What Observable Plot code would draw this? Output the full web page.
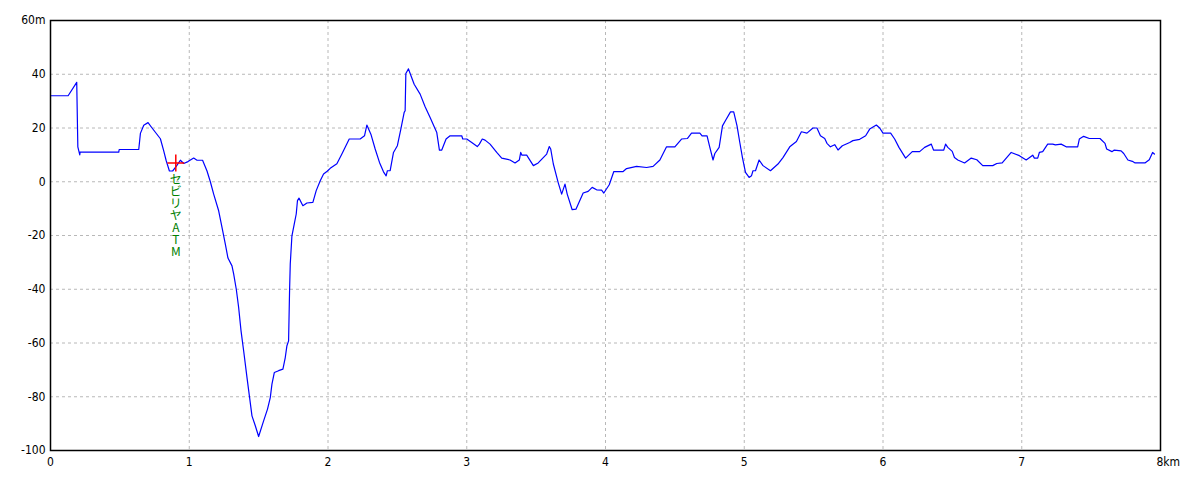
<!DOCTYPE html>
<html>
<head>
<meta charset="utf-8">
<script src="https://cdn.jsdelivr.net/npm/d3@7"></script>
<script src="https://cdn.jsdelivr.net/npm/@observablehq/plot@0.6"></script>
<style>
  html, body { margin: 0; padding: 0; background: #fff; }
  #chart svg { display: block; }
</style>
</head>
<body>
<div id="chart"></div>
<script>
// distance along route (km)
const distKm = [
  0, 0.127, 0.189, 0.197, 0.204, 0.211, 0.213, 0.492, 0.495, 0.636,
  0.648, 0.672, 0.703, 0.732, 0.792, 0.816, 0.833, 0.857, 0.880, 0.905,
  0.936, 0.960, 0.991, 1.032, 1.056, 1.096, 1.128, 1.152, 1.176, 1.212,
  1.236, 1.260, 1.279, 1.308, 1.320, 1.339, 1.356, 1.373, 1.392, 1.416,
  1.435, 1.452, 1.476, 1.500, 1.536, 1.564, 1.584, 1.596, 1.613, 1.644,
  1.675, 1.692, 1.704, 1.716, 1.723, 1.728, 1.740, 1.757, 1.771, 1.780,
  1.791, 1.819, 1.848, 1.891, 1.915, 1.944, 1.968, 1.994, 2.016, 2.064,
  2.100, 2.153, 2.232, 2.263, 2.280, 2.309, 2.340, 2.371, 2.400, 2.419,
  2.428, 2.448, 2.472, 2.500, 2.525, 2.549, 2.556, 2.561, 2.580, 2.592,
  2.621, 2.664, 2.700, 2.736, 2.784, 2.803, 2.820, 2.851, 2.880, 2.964,
  2.971, 3.000, 3.036, 3.076, 3.091, 3.112, 3.132, 3.168, 3.216, 3.252,
  3.312, 3.348, 3.379, 3.389, 3.398, 3.432, 3.480, 3.515, 3.576, 3.595,
  3.605, 3.624, 3.659, 3.684, 3.708, 3.724, 3.760, 3.787, 3.839, 3.875,
  3.904, 3.936, 3.972, 3.988, 4.027, 4.060, 4.127, 4.152, 4.224, 4.296,
  4.343, 4.392, 4.440, 4.500, 4.548, 4.591, 4.620, 4.680, 4.696, 4.732,
  4.752, 4.775, 4.788, 4.819, 4.843, 4.867, 4.901, 4.924, 4.948, 4.968,
  4.987, 5.009, 5.035, 5.052, 5.063, 5.081, 5.107, 5.135, 5.189, 5.243,
  5.279, 5.328, 5.376, 5.412, 5.452, 5.495, 5.524, 5.549, 5.580, 5.596,
  5.621, 5.652, 5.676, 5.707, 5.760, 5.783, 5.832, 5.875, 5.904, 5.952,
  5.976, 6.000, 6.055, 6.084, 6.115, 6.163, 6.211, 6.264, 6.300, 6.348,
  6.364, 6.438, 6.451, 6.467, 6.499, 6.515, 6.539, 6.588, 6.636, 6.676,
  6.719, 6.791, 6.820, 6.859, 6.924, 6.983, 7.032, 7.079, 7.091, 7.115,
  7.127, 7.151, 7.187, 7.223, 7.243, 7.284, 7.320, 7.403, 7.415, 7.446,
  7.487, 7.564, 7.600, 7.612, 7.650, 7.667, 7.716, 7.735, 7.765, 7.797,
  7.817, 7.888, 7.919, 7.943, 7.956
];
// elevation relative (m)
const elevM = [
  32, 32, 37, 13, 11.5, 10, 11, 11, 12, 12,
  18, 21, 22, 20, 16, 11.5, 8, 4, 4, 5.6,
  8, 6.8, 7.5, 8.8, 8, 8, 4, 0, -4.6, -10.8,
  -17, -23.2, -28.4, -31.3, -34.3, -40, -46.8, -55.4, -62.9, -72.8,
  -80.3, -87.1, -90.8, -94.8, -89, -84.6, -80.3, -75.3, -71, -70.3,
  -69.7, -65.4, -61, -59.2, -40.6, -30.6, -20.1, -15.7, -12, -7,
  -6.1, -8.9, -7.9, -7.7, -3.3, 0.4, 2.9, 3.9, 5.0, 6.7,
  10.3, 15.9, 15.9, 17.1, 21.1, 17.7, 12.2, 7.2, 3.7, 2.2,
  4.1, 4.1, 10.9, 13.4, 19.6, 25.8, 26.4, 40.3, 42, 40.3,
  36.3, 32.6, 27.9, 23.9, 18.3, 11.8, 11.8, 15.9, 17.1, 17.1,
  15.9, 15.9, 14.6, 13.1, 14, 15.9, 15.5, 14, 10.9, 8.8,
  8.1, 7, 8.1, 10.9, 9.9, 9.9, 6, 7, 10.3, 13.1,
  12.2, 6.6, -0.3, -4.6, -0.9, -4.6, -10.4, -10.2, -4.2, -3.6,
  -2.1, -3, -3.1, -4.2, -1.1, 3.8, 3.8, 4.9, 5.7, 5.3,
  5.7, 8.1, 13, 13, 15.9, 16.1, 18.1, 18.1, 17.1, 17.1,
  12.8, 8.1, 10.5, 12.8, 20.8, 23, 26, 26, 20.8, 14.6,
  9, 3.5, 1.6, 2.2, 4.1, 4.1, 8.1, 6, 4.1, 6.6,
  9, 13, 15, 18.6, 18.1, 20, 20, 17.1, 16.1, 14.3,
  13, 13.8, 11.8, 13.4, 14.6, 15.3, 15.8, 17.1, 19.6, 21.1,
  20, 18.1, 18.1, 15.9, 12.8, 8.8, 11.2, 11.2, 12.8, 14,
  11.8, 11.8, 14, 12.8, 11.3, 9, 8.1, 7, 8.8, 8.2,
  6, 6, 6.8, 7, 10.9, 9.7, 8.1, 9.9, 8.8, 8.8,
  10.9, 11.2, 14, 14, 13.7, 14, 13, 13, 15.9, 16.9,
  16.1, 16.1, 14.3, 12.2, 11.2, 11.8, 11.5, 10.5, 8.1, 7.6,
  7, 7, 8.2, 10.9, 10.3
];
const xTicks = [0, 1, 2, 3, 4, 5, 6, 7, 8];
const yTicks = [-100, -80, -60, -40, -20, 0, 20, 40, 60];
const xTickLabels = ["0", "1", "2", "3", "4", "5", "6", "7", "8km"];
const yTickLabels = ["-100", "-80", "-60", "-40", "-20", "0", "20", "40", "60m"];
// point of interest
const poiKm = [0.903];
const poiM = [7.0];
const poiLabel = ["セ\nビ\nリ\nヤ\nA\nT\nM"];

const profile = distKm.map((d, i) => ({km: d, m: elevM[i]}));
const poi = poiKm.map((d, i) => ({km: d, m: poiM[i], label: poiLabel[i]}));
const xLab = d => xTickLabels[xTicks.indexOf(d)];
const yLab = d => yTickLabels[yTicks.indexOf(d)];

const font = "'Liberation Sans Narrow', 'DejaVu Sans Condensed', 'Liberation Sans', sans-serif";

const chart = Plot.plot({
  width: 1200,
  height: 480,
  marginLeft: 50,
  marginRight: 40,
  marginTop: 20,
  marginBottom: 30,
  style: {fontFamily: font, fontSize: "12px", background: "#fff", color: "#000"},
  x: {domain: [0, 8]},
  y: {domain: [-100, 60]},
  marks: [
    Plot.gridX(xTicks.slice(1, -1), {stroke: "#b8b8b8", strokeOpacity: 1, strokeDasharray: "3,3", strokeWidth: 1}),
    Plot.gridY(yTicks.slice(1, -1), {stroke: "#b8b8b8", strokeOpacity: 1, strokeDasharray: "3,3", strokeWidth: 1}),
    Plot.axisX(xTicks.slice(0, -1), {tickSize: 0, tickPadding: 7, tickFormat: xLab, label: null, fontSize: 12}),
    Plot.axisX([8], {tickSize: 0, tickPadding: 7, tickFormat: xLab, label: null, textAnchor: "start", dx: -4, fontSize: 12}),
    Plot.axisY(yTicks, {tickSize: 0, tickPadding: 5, tickFormat: yLab, label: null, fontSize: 12}),
    Plot.line(profile, {x: "km", y: "m", stroke: "#0000ff", strokeWidth: 1.2, curve: "linear"}),
    Plot.dot(poi, {x: "km", y: "m", symbol: "plus", r: 5.5, stroke: "#ff0000", strokeWidth: 1.5}),
    Plot.text(poi, {x: "km", y: "m", text: "label", lineAnchor: "top", lineHeight: 1.0, dy: 13, fill: "#008000", fontSize: 12, fontFamily: "'Noto Sans CJK JP', sans-serif"}),
    Plot.frame({stroke: "#000", strokeWidth: 1.5})
  ]
});
document.getElementById("chart").appendChild(chart);
</script>
</body>
</html>
